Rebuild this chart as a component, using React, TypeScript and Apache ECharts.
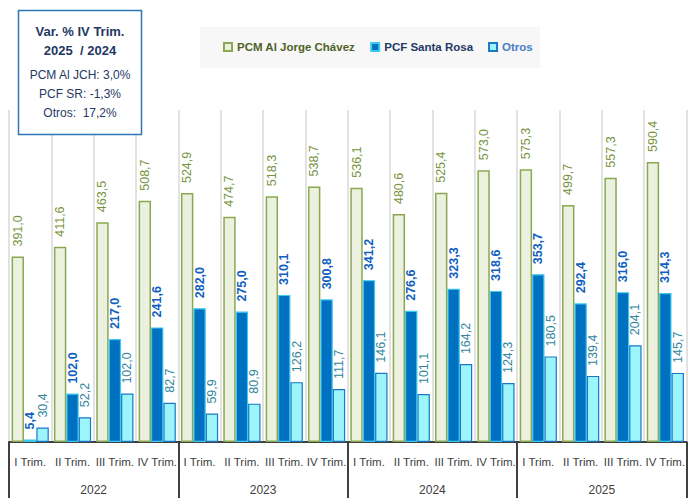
import React, { useEffect, useRef } from "react";
import * as echarts from "echarts";

const categories = [
  "I Trim.", "II Trim.", "III Trim.", "IV Trim.",
  "I Trim.", "II Trim.", "III Trim.", "IV Trim.",
  "I Trim.", "II Trim.", "III Trim.", "IV Trim.",
  "I Trim.", "II Trim.", "III Trim.", "IV Trim.",
];
const years = ["2022", "2023", "2024", "2025"];
const pcmJorgeChavez = [391.0, 411.6, 463.5, 508.7, 524.9, 474.7, 518.3, 538.7, 536.1, 480.6, 525.4, 573.0, 575.3, 499.7, 557.3, 590.4];
const pcfSantaRosa = [5.4, 102.0, 217.0, 241.6, 282.0, 275.0, 310.1, 300.8, 341.2, 276.6, 323.3, 318.6, 353.7, 292.4, 316.0, 314.3];
const otros = [30.4, 52.2, 102.0, 82.7, 59.9, 80.9, 126.2, 111.7, 146.1, 101.1, 164.2, 124.3, 180.5, 139.4, 204.1, 145.7];
const boxTitle = ["Var. % IV Trim.", "2025  / 2024"];
const boxLines = ["PCM Al JCH: 3,0%", "PCF SR: -1,3%", "Otros:  17,2%"];

const FONT = "'Liberation Sans', Arial, sans-serif";
const fmt = (v: number) => v.toFixed(1).replace(".", ",");

export default function App() {
  const ref = useRef<HTMLDivElement>(null);
  useEffect(() => {
    if (!ref.current) return;
    const chart = echarts.init(ref.current, undefined, { renderer: "svg" });
    const label = (color: string, bold: boolean) => ({
      show: true,
      position: "top" as const,
      rotate: 90,
      align: "left" as const,
      verticalAlign: "middle" as const,
      distance: 10,
      color,
      fontFamily: FONT,
      fontSize: 12.5,
      fontWeight: bold ? ("bold" as const) : ("normal" as const),
      formatter: (p: any) => fmt(p.value),
    });
    chart.setOption({
      animation: false,
      backgroundColor: "#ffffff",
      grid: { left: 9, right: -6, top: 110, bottom: 56 },
      legend: {
        left: 223,
        top: 41,
        padding: 0,
        itemWidth: 8,
        itemHeight: 8,
        itemGap: 15,
        icon: "rect",
        textStyle: { fontFamily: FONT, fontSize: 11.5, fontWeight: "bold" },
        data: [
          { name: "PCM Al Jorge Chávez", textStyle: { color: "#4f6228" } },
          { name: "PCF Santa Rosa", textStyle: { color: "#1f3864" } },
          { name: "Otros", textStyle: { color: "#4a7ec4" } },
        ],
      },
      xAxis: [
        {
          type: "category",
          data: categories,
          boundaryGap: true,
          axisLine: { show: true, lineStyle: { color: "#404040", width: 2 } },
          axisTick: {
            show: true,
            length: 58,
            interval: (i: number) => i % 4 === 0,
            lineStyle: { color: "#404040", width: 2 },
          },
          axisLabel: { interval: 0, color: "#404040", fontFamily: FONT, fontSize: 11.5, margin: 14 },
          splitLine: { show: true, lineStyle: { color: "#d9d9d9", width: 1.5 } },
        },
        {
          type: "category",
          data: years,
          position: "bottom",
          boundaryGap: true,
          axisLine: { show: false },
          axisTick: { show: false },
          axisLabel: { interval: 0, color: "#404040", fontFamily: FONT, fontSize: 12, margin: 42 },
          splitLine: { show: false },
        },
      ],
      yAxis: { type: "value", min: 0, max: 700, show: false, splitLine: { show: false } },
      series: [
        {
          name: "PCM Al Jorge Chávez",
          type: "bar",
          data: pcmJorgeChavez,
          barWidth: 12.4,
          barGap: "0%",
          itemStyle: { color: "#ebf1de", borderColor: "#8aa851", borderWidth: 1.5 },
          label: label("#77933c", false),
        },
        {
          name: "PCF Santa Rosa",
          type: "bar",
          data: pcfSantaRosa,
          barWidth: 12.4,
          barGap: "0%",
          itemStyle: { color: "#0070c0", borderColor: "#3cc8f0", borderWidth: 1.2 },
          label: label("#0f5fc0", true),
        },
        {
          name: "Otros",
          type: "bar",
          data: otros,
          barWidth: 12.4,
          barGap: "0%",
          itemStyle: { color: "#9cf5fa", borderColor: "#1a78c6", borderWidth: 1.2 },
          label: label("#31859c", false),
        },
      ],
      graphic: [
        {
          type: "rect",
          left: 200,
          top: 27,
          shape: { width: 340, height: 41 },
          style: { fill: "#f7f7f7" },
          z: -1,
        },
        {
          type: "rect",
          shape: { x: 18.5, y: 10.5, width: 123, height: 124 },
          style: { fill: "#ffffff", stroke: "#2e75b6", lineWidth: 1.5 },
          z: 20,
        },
        ...boxTitle.map((t, i) => ({
          type: "text",
          x: 80,
          y: 31 + i * 19,
          style: { text: t, font: `bold 13px ${FONT}`, fill: "#1f3864", align: "center", verticalAlign: "middle" },
          z: 21,
        })),
        ...boxLines.map((t, i) => ({
          type: "text",
          x: 80,
          y: 75 + i * 19,
          style: { text: t, font: `12px ${FONT}`, fill: "#1f3864", align: "center", verticalAlign: "middle" },
          z: 21,
        })),
      ],
    });
    return () => chart.dispose();
  }, []);
  return <div ref={ref} style={{ position: "fixed", left: 0, top: 0, width: 688, height: 498 }} />;
}
